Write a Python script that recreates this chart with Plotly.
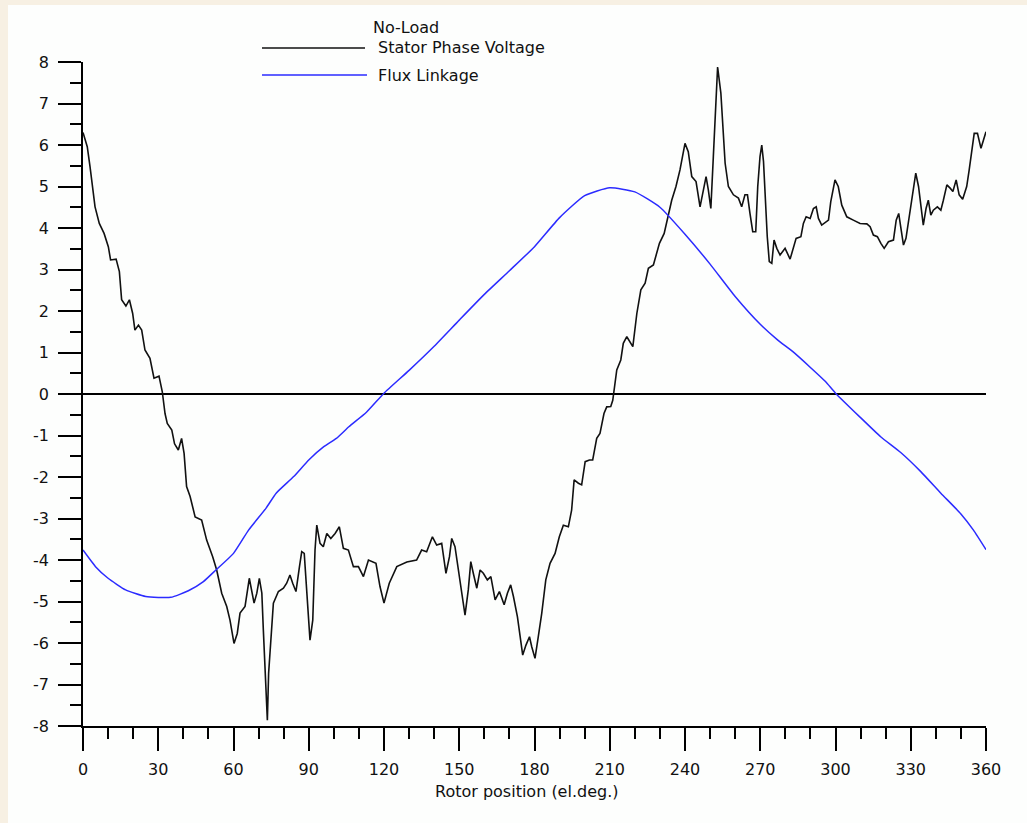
import plotly.graph_objects as go

# ---------------- data ----------------
volt_deg = [0.0, 1.7, 2.8, 3.9, 4.8, 6.5, 8.4, 10.1, 11.0, 13.2, 14.5, 15.4, 17.1, 18.5, 19.8, 20.7,
            22.1, 23.4, 24.7, 26.7, 28.3, 30.3, 31.6, 32.7, 33.6, 35.4, 36.5, 38.0, 39.3, 40.3,
            41.3, 42.7, 44.7, 47.3, 49.3, 51.7, 53.3, 55.3, 57.3, 58.6, 60.2, 61.5, 62.6, 64.6,
            66.3, 68.2, 69.3, 70.3, 71.3, 71.9, 72.6, 73.0, 73.5, 74.0, 74.8, 75.9, 77.9, 79.9,
            81.2, 82.5, 83.6, 84.9, 86.3, 87.2, 88.2, 89.2, 90.5, 91.6, 92.5, 93.2, 94.5, 95.8,
            97.2, 98.8, 100.5, 102.2, 103.8, 105.8, 107.8, 109.8, 111.8, 113.8, 116.8, 118.4,
            120.0, 122.1, 125.1, 129.1, 133.0, 135.0, 137.0, 139.3, 141.0, 143.0, 144.7, 146.1,
            147.0, 148.3, 149.6, 151.0, 152.3, 153.6, 154.6, 155.6, 157.0, 158.3, 159.6, 161.2,
            162.6, 164.3, 166.0, 167.9, 169.2, 170.5, 171.6, 173.2, 174.2, 175.3, 176.6, 178.0,
            178.9, 180.2, 181.5, 182.9, 184.5, 186.2, 188.2, 189.9, 191.5, 193.5, 194.8, 195.8,
            197.5, 198.8, 200.2, 201.9, 203.2, 204.8, 206.1, 207.7, 208.8, 210.4, 211.2, 211.7,
            212.8, 214.4, 215.4, 216.8, 219.2, 220.8, 222.4, 224.1, 225.4, 227.4, 228.7, 229.8,
            231.7, 233.0, 234.7, 236.4, 238.0, 240.0, 241.3, 242.7, 244.4, 246.0, 247.3, 248.4,
            249.3, 250.3, 251.3, 252.4, 253.0, 254.3, 255.1, 256.0, 257.3, 259.3, 261.3, 262.6,
            263.9, 264.9, 265.9, 267.0, 268.2, 269.0, 269.9, 270.6, 271.3, 272.0, 272.8, 273.6,
            274.6, 275.5, 276.6, 277.9, 279.9, 281.9, 283.2, 284.3, 286.2, 287.2, 288.3, 289.9,
            291.2, 292.3, 293.2, 294.5, 297.2, 298.1, 299.8, 301.1, 302.5, 304.5, 307.1, 309.8,
            312.5, 313.8, 315.1, 316.7, 318.1, 319.4, 321.1, 323.1, 324.2, 325.2, 326.0, 327.1,
            328.1, 329.5, 330.8, 332.0, 333.1, 334.0, 335.0, 336.1, 337.0, 338.0, 339.0, 340.6,
            342.0, 343.0, 344.4, 345.7, 346.8, 348.1, 349.3, 350.7, 352.3, 353.3, 354.3, 355.3,
            356.6, 358.0, 359.0, 360.0]
volt_val = [6.30, 5.96, 5.48, 5.00, 4.51, 4.11, 3.87, 3.55, 3.23, 3.25, 2.95, 2.27, 2.12, 2.27, 1.94, 1.54,
            1.66, 1.54, 1.06, 0.86, 0.38, 0.43, 0.06, -0.47, -0.71, -0.87, -1.20, -1.35, -1.07, -1.43,
            -2.23, -2.47, -2.96, -3.04, -3.52, -3.92, -4.24, -4.80, -5.12, -5.45, -6.01, -5.77, -5.28, -5.12,
            -4.44, -5.04, -4.80, -4.44, -4.80, -5.69, -6.65, -7.45, -7.86, -6.73, -5.93, -5.04, -4.76, -4.68,
            -4.56, -4.36, -4.56, -4.76, -4.16, -3.80, -3.84, -4.88, -5.93, -5.45, -3.76, -3.16, -3.60, -3.68,
            -3.36, -3.48, -3.36, -3.20, -3.72, -3.76, -4.16, -4.16, -4.40, -4.00, -4.08, -4.64,
            -5.04, -4.56, -4.16, -4.05, -4.00, -3.76, -3.80, -3.44, -3.64, -3.60, -4.32, -3.92,
            -3.48, -3.68, -4.24, -4.88, -5.33, -4.72, -4.04, -4.32, -4.68, -4.24, -4.32, -4.48,
            -4.40, -4.96, -4.76, -5.08, -4.80, -4.60, -4.88, -5.37, -5.85, -6.29, -6.05, -5.85,
            -6.09, -6.37, -5.85, -5.28, -4.48, -4.08, -3.84, -3.44, -3.16, -3.20, -2.80, -2.07,
            -2.15, -2.19, -1.63, -1.59, -1.59, -1.07, -0.95, -0.47, -0.31, -0.30, -0.15, 0.06,
            0.58, 0.82, 1.22, 1.38, 1.14, 1.94, 2.51, 2.67, 3.03, 3.11, 3.39, 3.63,
            3.87, 4.19, 4.67, 5.00, 5.40, 6.04, 5.84, 5.24, 5.12, 4.51, 4.92, 5.24,
            4.92, 4.47, 5.72, 6.92, 7.88, 7.25, 6.36, 5.56, 5.00, 4.80, 4.72, 4.51,
            4.80, 4.80, 4.35, 3.91, 3.91, 5.00, 5.72, 6.00, 5.60, 4.75, 3.79, 3.19,
            3.15, 3.71, 3.51, 3.35, 3.51, 3.25, 3.55, 3.75, 3.79, 4.11, 4.27, 4.23,
            4.47, 4.51, 4.23, 4.07, 4.19, 4.63, 5.16, 5.00, 4.55, 4.27, 4.19, 4.11,
            4.10, 4.03, 3.83, 3.79, 3.63, 3.51, 3.67, 3.71, 4.19, 4.35, 4.03, 3.59,
            3.75, 4.35, 4.92, 5.32, 5.00, 4.60, 4.07, 4.47, 4.67, 4.31, 4.43, 4.51,
            4.43, 4.67, 5.04, 4.96, 4.88, 5.16, 4.80, 4.69, 5.00, 5.40, 5.80, 6.28,
            6.28, 5.92, 6.12, 6.32]

flux_deg = [0, 5, 10, 17, 25, 35, 42, 48, 53, 60, 66, 73, 77, 84, 90, 96, 101, 106, 113, 120,
            130, 140, 150, 160, 170, 180, 190, 200, 210, 220, 230, 240, 250, 260, 270, 277, 283,
            290, 296, 300, 310, 318, 326, 334, 342, 350, 355, 360]
flux_val = [-3.76, -4.16, -4.44, -4.72, -4.88, -4.90, -4.74, -4.52, -4.24, -3.84, -3.28, -2.75, -2.39,
            -1.99, -1.59, -1.27, -1.07, -0.79, -0.44, 0.02,
            0.57, 1.15, 1.78, 2.40, 2.97, 3.55, 4.25, 4.78, 4.97, 4.87, 4.50, 3.85, 3.13, 2.35, 1.68,
            1.30, 1.02, 0.64, 0.30, 0.02, -0.57, -1.03, -1.41, -1.87, -2.39, -2.89, -3.28, -3.75]

x_ticks = [0, 30, 60, 90, 120, 150, 180, 210, 240, 270, 300, 330, 360]
y_ticks = [8, 7, 6, 5, 4, 3, 2, 1, 0, -1, -2, -3, -4, -5, -6, -7, -8]
y_tick_text = [str(v) for v in y_ticks]

legend_title = "No-Load"
series_names = ["Stator Phase Voltage", "Flux Linkage"]
x_title = "Rotor position (el.deg.)"

# ---------------- styling ----------------
FONT = "DejaVu Sans"
OFF_X, OFF_Y = 8, 5              # page offset of the figure (beige frame)
W, H = 1027 - OFF_X, 823 - OFF_Y  # figure size
# plot area in page pixels
PL, PR, PT, PB = 83, 986, 62, 726
L, R, T, B = PL - OFF_X, PR - OFF_X, PT - OFF_Y, PB - OFF_Y
BLUE = "#2b2bff"
WHITE = "#FDFEFD"


def xp(px):  # page pixel -> paper fraction
    return (px - PL) / (PR - PL)


def yp(py):
    return (PB - py) / (PB - PT)


fig = go.Figure()
fig.add_trace(go.Scatter(x=volt_deg, y=volt_val, mode="lines", name=series_names[0],
                         line=dict(color="#111111", width=1.6), showlegend=False))
fig.add_trace(go.Scatter(x=flux_deg, y=flux_val, mode="lines", name=series_names[1],
                         line=dict(color=BLUE, width=1.5, shape="spline", smoothing=0.5),
                         showlegend=False))

axis_common = dict(showgrid=False, showline=True, linecolor="black", linewidth=1.6,
                   ticks="outside", ticklen=23, tickwidth=1.6, tickcolor="black",
                   tickfont=dict(family=FONT, size=16, color="#111111"))

fig.update_xaxes(range=[0, 360], tickvals=x_ticks, zeroline=False,
                 minor=dict(dtick=10, ticks="outside", ticklen=11, tickwidth=1.6, tickcolor="black"),
                 ticklabelstandoff=5, **axis_common)
fig.update_yaxes(range=[-8, 8], tickvals=y_ticks, ticktext=y_tick_text,
                 zeroline=True, zerolinecolor="black", zerolinewidth=1.6,
                 minor=dict(dtick=0.5, ticks="outside", ticklen=11, tickwidth=1.6, tickcolor="black"),
                 ticklabelstandoff=6, **axis_common)

shapes = [
    dict(type="line", xref="paper", yref="paper", x0=xp(262), x1=xp(365), y0=yp(48), y1=yp(48),
         line=dict(color="#111111", width=1.6)),
    dict(type="line", xref="paper", yref="paper", x0=xp(262), x1=xp(367), y0=yp(75), y1=yp(75),
         line=dict(color=BLUE, width=1.6)),
]

ann_font = dict(family=FONT, size=16, color="#111111")
annotations = [
    dict(text=legend_title, xref="paper", yref="paper", x=xp(406), y=yp(27), xanchor="center",
         yanchor="middle", showarrow=False, font=ann_font),
    dict(text=series_names[0], xref="paper", yref="paper", x=xp(376), y=yp(48), xanchor="left",
         yanchor="middle", showarrow=False, font=ann_font),
    dict(text=series_names[1], xref="paper", yref="paper", x=xp(376), y=yp(75), xanchor="left",
         yanchor="middle", showarrow=False, font=ann_font),
    dict(text=x_title, xref="paper", yref="paper", x=xp(526), y=yp(791), xanchor="center",
         yanchor="middle", showarrow=False, font=ann_font),
]

fig.update_layout(width=W, height=H, autosize=False,
                  margin=dict(l=L, r=W - R, t=T, b=H - B, pad=0),
                  paper_bgcolor=WHITE, plot_bgcolor=WHITE,
                  shapes=shapes, annotations=annotations, showlegend=False,
                  font=dict(family=FONT, size=16, color="#111111"))

page_style = ("document.body.style.margin='%dpx 0 0 %dpx';"
              "document.body.style.background='#F7F0E3';"
              "document.body.style.overflow='hidden';") % (OFF_Y, OFF_X)

fig.write_html("out.html", post_script=page_style)
